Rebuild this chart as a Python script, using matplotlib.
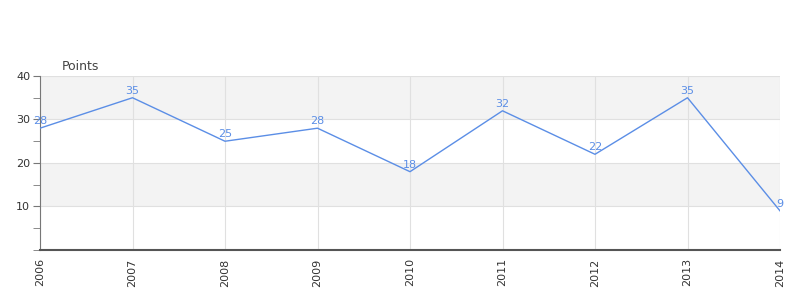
import matplotlib.pyplot as plt
from matplotlib.ticker import MultipleLocator

years = ['2006', '2007', '2008', '2009', '2010', '2011', '2012', '2013', '2014']
points = [28, 35, 25, 28, 18, 32, 22, 35, 9]
y_ticks = [10, 20, 30, 40]

fig = plt.figure(figsize=(8, 3), dpi=100)
ax = fig.add_axes([0.05, 0.1667, 0.925, 0.58])
x = list(range(len(years)))

ax.set_xlim(0, len(years) - 1)
ax.set_ylim(0, 40)
for lo, hi in [(10, 20), (30, 40)]:
    ax.axhspan(lo, hi, color='#f3f3f3', zorder=0, lw=0)
for yv in y_ticks:
    ax.axhline(yv, color='#e0e0e0', lw=0.8, zorder=1)
for xv in x:
    ax.axvline(xv, color='#e0e0e0', lw=0.8, zorder=1)

line_color = '#5b8ee6'
ax.plot(x, points, color=line_color, lw=1.0, zorder=3)
for xi, v in zip(x, points):
    ax.text(xi, v + 0.5, str(v), color=line_color, fontsize=8, ha='center', va='bottom', zorder=4)

ax.axhline(0, color='#cc0000', lw=1.0, zorder=2)

ax.set_xticks(x)
ax.set_xticklabels(years, rotation=90, fontsize=8, color='#333333')
ax.set_yticks(y_ticks)
ax.set_yticklabels([str(v) for v in y_ticks], fontsize=8, color='#333333')
ax.yaxis.set_minor_locator(MultipleLocator(5))
ax.tick_params(axis='y', which='both', length=5, color='#777777', pad=2)
ax.tick_params(axis='x', length=0, pad=6)

for s in ['top', 'right']:
    ax.spines[s].set_visible(False)
ax.spines['left'].set_color('#777777')
ax.spines['bottom'].set_color('#555555')
ax.spines['bottom'].set_linewidth(1.5)

fig.text(62 / 800, 1 - 66 / 300, 'Points', fontsize=9, color='#444444', ha='left', va='center')

fig.savefig('out.png', dpi=100)
